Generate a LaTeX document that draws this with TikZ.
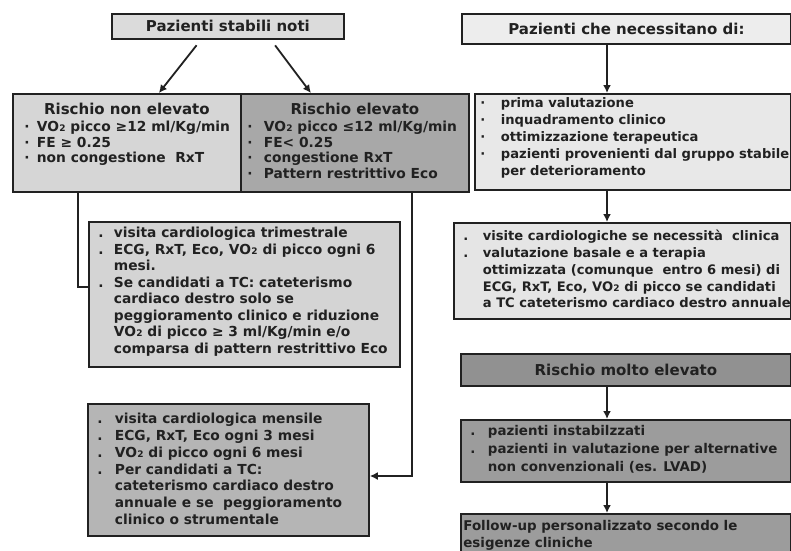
\documentclass[tikz,border=0pt]{standalone}
\usepackage{fontspec}
\setmainfont{DejaVu Sans}
\usepackage{graphicx}
\usetikzlibrary{arrows.meta}

\definecolor{inkc}{gray}{0.13}
\definecolor{stabfill}{gray}{0.86}
\definecolor{nonelevfill}{gray}{0.84}
\definecolor{elevfill}{gray}{0.66}
\definecolor{trimfill}{gray}{0.83}
\definecolor{mensfill}{gray}{0.71}
\definecolor{necfill}{gray}{0.93}
\definecolor{primafill}{gray}{0.91}
\definecolor{visfill}{gray}{0.90}
\definecolor{moltofill}{gray}{0.57}
\definecolor{instabfill}{gray}{0.61}

\newcommand{\vo}{VO\kern0.3pt{\fontsize{9}{9}\selectfont 2}}
\newcommand{\bul}[1]{\makebox[#1][l]{·}}
\newcommand{\dotb}[1]{\makebox[#1][l]{.}}
\newcommand{\panel}[4]{\parbox[c][#2][t]{#1}{\raggedright\leftskip=#3\relax
  \rightskip=-60pt plus 1fil\relax #4\par}}

\tikzset{
  box/.style={draw=inkc, line width=1.8pt, inner sep=0pt, anchor=north west,
    text=inkc, font=\bfseries\fontsize{13.8}{16.6}\selectfont},
  titlebox/.style={box, font=\bfseries\fontsize{15}{18}\selectfont},
  arr/.style={draw=inkc, line width=1.8pt, -{Latex[length=8pt,width=8pt]}},
  link/.style={draw=inkc, line width=1.8pt},
}

\begin{document}
\begin{tikzpicture}[x=1pt, y=-1pt]
  \useasboundingbox (0,0) rectangle (791,550);

  \node[titlebox, fill=stabfill, minimum width=232pt, minimum height=25pt] (stabili) at (111,13) {Pazienti stabili noti};
  \node[box, fill=nonelevfill] (nonelev) at (12,93) {\panel{228pt}{98pt}{11.5pt}{%
    {\centering\fontsize{15}{18}\selectfont\rule{0pt}{21pt}Rischio non elevato\par}
    \fontsize{13.8}{15.5}\selectfont\vspace{1.5pt}%
    \bul{12.5pt}\vo{} picco ≥12 ml/Kg/min\\
    \bul{12.5pt}FE ≥ 0.25\\
    \bul{12.5pt}non congestione\ \ RxT}};
  \node[box, fill=elevfill] (elev) at (240,93) {\panel{228pt}{98pt}{6.5pt}{%
    {\centering\fontsize{15}{18}\selectfont\rule{0pt}{21pt}Rischio elevato\par}
    \fontsize{13.8}{15.5}\selectfont\vspace{1.5pt}%
    \bul{16.5pt}\vo{} picco ≤12 ml/Kg/min\\
    \bul{16.5pt}FE< 0.25\\
    \bul{16.5pt}congestione RxT\\
    \bul{16.5pt}Pattern restrittivo Eco}};
  \node[box, fill=trimfill] (trim) at (88,221) {\panel{311pt}{145pt}{9.5pt}{%
    \fontsize{13.8}{16.5}\selectfont
    \rule{0pt}{16pt}\dotb{15.5pt}visita cardiologica trimestrale\\
    \dotb{15.5pt}ECG, RxT, Eco, \vo{} di picco ogni 6\\
    \hspace*{15.5pt}mesi.\\
    \dotb{15.5pt}Se candidati a TC: cateterismo\\
    \hspace*{15.5pt}cardiaco destro solo se\\
    \hspace*{15.5pt}peggioramento clinico e riduzione\\
    \hspace*{15.5pt}\vo{} di picco ≥ 3 ml/Kg/min e/o\\
    \hspace*{15.5pt}comparsa di pattern restrittivo Eco}};
  \node[box, fill=mensfill] (mens) at (87,403) {\panel{281pt}{132pt}{9.5pt}{%
    \fontsize{13.8}{16.7}\selectfont
    \rule{0pt}{20pt}\dotb{17.5pt}visita cardiologica mensile\\
    \dotb{17.5pt}ECG, RxT, Eco ogni 3 mesi\\
    \dotb{17.5pt}\vo{} di picco ogni 6 mesi\\
    \dotb{17.5pt}Per candidati a TC:\\
    \hspace*{17.5pt}cateterismo cardiaco destro\\
    \hspace*{17.5pt}annuale e se\ \ peggioramento\\
    \hspace*{17.5pt}clinico o strumentale}};

  \node[titlebox, fill=necfill, minimum width=329pt, minimum height=30pt] (necess) at (461,13) {Pazienti che necessitano di:};
  \node[box, fill=primafill] (prima) at (474,93) {\panel{316pt}{96pt}{5.5pt}{%
    \fontsize{13.1}{17}\selectfont
    \rule{0pt}{14pt}\bul{20.5pt}prima valutazione\\
    \bul{20.5pt}inquadramento clinico\\
    \bul{20.5pt}ottimizzazione terapeutica\\
    \bul{20.5pt}pazienti provenienti dal gruppo stabile\\
    \hspace*{20.5pt}per deterioramento}};
  \node[box, fill=visfill] (visite) at (453,222) {\panel{337pt}{96pt}{9.5pt}{%
    \fontsize{13.1}{16.7}\selectfont
    \rule{0pt}{18pt}\dotb{19.5pt}visite cardiologiche se necessità\ \ clinica\\
    \dotb{19.5pt}valutazione basale e a terapia\\
    \hspace*{19.5pt}ottimizzata (comunque\ \ entro 6 mesi) di\\
    \hspace*{19.5pt}ECG, RxT, Eco, \vo{} di picco se candidati\\
    \hspace*{19.5pt}a TC cateterismo cardiaco destro annuale}};
  \node[titlebox, fill=moltofill, minimum width=330pt, minimum height=32pt] (molto) at (460,353) {Rischio molto elevato};
  \node[box, fill=instabfill] (instab) at (460,419) {\panel{330pt}{62pt}{9.5pt}{%
    \fontsize{13.4}{18}\selectfont
    \rule{0pt}{16pt}\dotb{17.5pt}pazienti instabilzzati\\
    \dotb{17.5pt}pazienti in valutazione per alternative\\
    \hspace*{17.5pt}non convenzionali (es. LVAD)}};
  \node[box, fill=instabfill] (follow) at (460,513) {\panel{330pt}{42pt}{2.5pt}{%
    \fontsize{13.4}{17}\selectfont
    \rule{0pt}{17pt}Follow-up personalizzato secondo le\\
    esigenze cliniche}};

  \coordinate (spine) at (607,0);
  \coordinate (lowbend) at (78,287);
  \coordinate (highbend) at (412,476);
  \draw[arr, shorten <=7pt] ([xshift=-27pt]stabili.south) -- ([xshift=32pt]nonelev.north);
  \draw[arr, shorten <=7pt] ([xshift=43pt]stabili.south) -- ([xshift=-44pt]elev.north);
  \draw[arr] (necess.south -| spine) -- (prima.north -| spine);
  \draw[arr] (prima.south -| spine) -- (visite.north -| spine);
  \draw[arr] (molto.south -| spine) -- (instab.north -| spine);
  \draw[arr] (instab.south -| spine) -- (follow.north -| spine);
  \draw[link] (nonelev.south -| lowbend) |- (trim.west |- lowbend);
  \draw[arr] (elev.south -| highbend) |- (mens.east |- highbend);
\end{tikzpicture}
\end{document}
